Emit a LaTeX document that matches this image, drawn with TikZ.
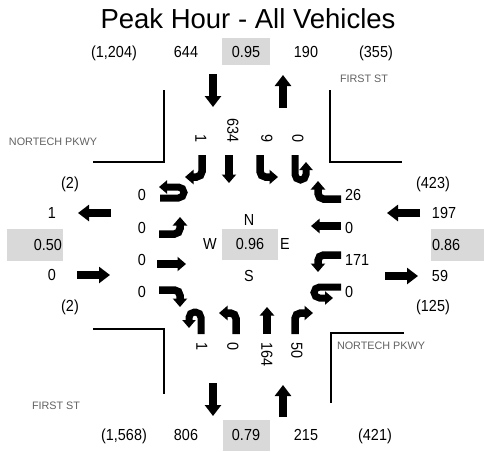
\documentclass[tikz,border=0pt]{standalone}
\usepackage{fontspec}
\setmainfont{Liberation Sans}
\newfontfamily\numfont[FakeStretch=0.9]{Liberation Sans}
\usetikzlibrary{arrows.meta}

\begin{document}
\begin{tikzpicture}[x=1pt,y=-1pt,
  num/.style={inner sep=0pt, text height=11.5pt, text depth=0pt,
              font=\numfont\fontsize{16}{16}\selectfont},
  street/.style={inner sep=0pt, font=\fontsize{10.8}{11}\selectfont, text=black!62},
  pbox/.style={fill=black!15, draw=none},
  curb/.style={line width=1.5pt},
  bigarrow/.style={line width=8pt, -{Triangle[width=16pt,length=11pt]}},
  turn/.style={line width=7.5pt, rounded corners=5.5pt, -{Triangle[width=14pt,length=8.5pt]}},
  tight/.style={line width=7pt, rounded corners=5.5pt, -{Triangle[width=13pt,length=8pt]}},
]
\useasboundingbox (0,0) rectangle (484,451);

% title
\node[anchor=base, inner sep=0pt, font=\fontsize{27.5}{28}\selectfont] (title) at (248,28) {Peak Hour - All Vehicles};

% peak hour factor boxes
\fill[pbox] (222,38) rectangle (270,65);
\fill[pbox] (223,420) rectangle (270,451);
\fill[pbox] (7,229) rectangle (63,261);
\fill[pbox] (431,229) rectangle (484,261);
\fill[pbox] (222,229) rectangle (278,260);

% north leg totals
\node[num] (nIn)  at (114,52) {(1,204)};
\node[num] (nOut) at (186,52) {644};
\node[num] (nPHF) at (246,52) {0.95};
\node[num] (nApp) at (306,52) {190};
\node[num] (nOth) at (376,52) {(355)};

% south leg totals
\node[num] (sIn)  at (124,435) {(1,568)};
\node[num] (sOut) at (186,435) {806};
\node[num] (sPHF) at (246,435) {0.79};
\node[num] (sApp) at (306,435) {215};
\node[num] (sOth) at (375,435) {(421)};

% west leg totals
\node[num] (wTop) at (70,183) {(2)};
\node[num] (wOut) at (52,213) {1};
\node[num, anchor=east] (wPHF) at (62,245) {0.50};
\node[num] (wIn)  at (52,275) {0};
\node[num] (wBot) at (70,306) {(2)};

% east leg totals
\node[num] (eTop) at (433,183) {(423)};
\node[num] (eIn)  at (444,213) {197};
\node[num, anchor=west] (ePHF) at (432,245) {0.86};
\node[num] (eOut) at (440,276) {59};
\node[num] (eBot) at (433,306) {(125)};

% street names
\node[street] (st1) at (364,79)  {FIRST ST};
\node[street] (st2) at (53,142)  {NORTECH PKWY};
\node[street] (st3) at (381,346) {NORTECH PKWY};
\node[street] (st4) at (56,406)  {FIRST ST};

% curb lines
\draw[curb] (164,90) -- (164,162) -- (93,162);
\draw[curb] (330,90) -- (330,162) -- (402,162);
\draw[curb] (93,329) -- (164,329) -- (164,394);
\draw[curb] (404,333) -- (331,333) -- (331,403);

% approach / departure arrows
\draw[bigarrow] (213,74) -- (213,107);
\draw[bigarrow] (283,108) -- (283,75);
\draw[bigarrow] (213,383) -- (213,416);
\draw[bigarrow] (283,417) -- (283,385);
\draw[bigarrow] (111,213) -- (78,213);
\draw[bigarrow] (77,275) -- (110,275);
\draw[bigarrow] (420,213) -- (387,213);
\draw[bigarrow] (385,276) -- (418,276);

% centre compass
\node[num] (cN) at (249,220) {N};
\node[num] (cW) at (210,244) {W};
\node[num] (cP) at (250,244) {0.96};
\node[num] (cE) at (285,244) {E};
\node[num] (cS) at (249,276) {S};

% southbound movements
\node[num, rotate=-90, anchor=east] (sbR) at (201,143) {1};
\node[num, rotate=-90, anchor=east] (sbT) at (233,143) {634};
\node[num, rotate=-90, anchor=east] (sbL) at (267,143) {9};
\node[num, rotate=-90, anchor=east] (sbU) at (298,143) {0};
\draw[turn] (202,155) -- (202,177) -- (185,177);
\draw[turn] (229,155) -- (229,183);
\draw[turn] (260,155) -- (260,177) -- (278,177);
\draw[tight] (295,155) -- (295,180) -- (306,180) -- (306,162);

% northbound movements
\node[num, rotate=-90, anchor=west] (nbU) at (202,342) {1};
\node[num, rotate=-90, anchor=west] (nbL) at (233,342) {0};
\node[num, rotate=-90, anchor=west] (nbT) at (267,342) {164};
\node[num, rotate=-90, anchor=west] (nbR) at (297,342) {50};
\draw[tight] (201,334) -- (201,312) -- (189,312) -- (189,328);
\draw[turn] (236,334) -- (236,313) -- (219,313);
\draw[turn] (267,334) -- (267,307);
\draw[turn] (295,334) -- (295,313) -- (313,313);

% eastbound movements
\node[num, anchor=east] (ebU) at (146,195) {0};
\node[num, anchor=east] (ebL) at (146,228) {0};
\node[num, anchor=east] (ebT) at (146,260) {0};
\node[num, anchor=east] (ebR) at (146,292) {0};
\draw[tight] (160,198) -- (184,198) -- (184,187) -- (159,187);
\draw[turn] (159,234) -- (180,234) -- (180,217);
\draw[turn] (157,264) -- (186,264);
\draw[turn] (159,290) -- (180,290) -- (180,307);

% westbound movements
\node[num, anchor=west] (wbR) at (345,195) {26};
\node[num, anchor=west] (wbT) at (345,228) {0};
\node[num, anchor=west] (wbL) at (345,260) {171};
\node[num, anchor=west] (wbU) at (345,292) {0};
\draw[turn] (341,199) -- (318,199) -- (318,181);
\draw[turn] (341,226) -- (311,226);
\draw[turn] (341,255) -- (318,255) -- (318,272);
\draw[tight] (341,287) -- (314,287) -- (314,298) -- (333,298);
\end{tikzpicture}
\end{document}
